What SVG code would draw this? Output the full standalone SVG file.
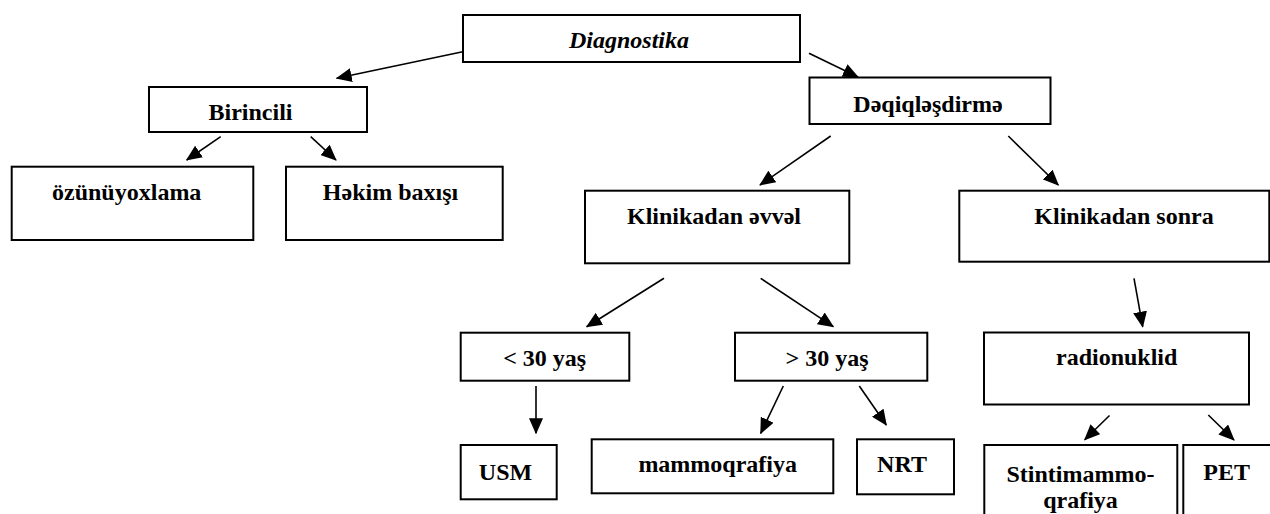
<svg xmlns="http://www.w3.org/2000/svg" width="1270" height="514" viewBox="0 0 1270 514">
<style>
.box{fill:#fff;stroke:#000;stroke-width:2}
.lbl{font-family:"Liberation Serif","Times New Roman",serif;font-weight:bold;font-size:24px;fill:#000;text-anchor:middle}
.it{font-style:italic}
.con{stroke:#000;stroke-width:1.6;fill:none;marker-end:url(#ah)}
</style>
<defs>
<marker id="ah" markerUnits="userSpaceOnUse" markerWidth="16" markerHeight="14" refX="15" refY="7" orient="auto">
<path d="M0,0 L16,7 L0,14 z" fill="#000"/>
</marker>
</defs>
<rect width="1270" height="514" fill="#fff"/>
<g id="connectors">
<line class="con" x1="462.7" y1="51.7" x2="336.7" y2="78.3"/>
<line class="con" x1="809" y1="53.3" x2="858" y2="77"/>
<line class="con" x1="220.7" y1="136.7" x2="186.7" y2="160"/>
<line class="con" x1="310.7" y1="136.7" x2="336" y2="160"/>
<line class="con" x1="830.7" y1="136" x2="760" y2="185"/>
<line class="con" x1="1008.3" y1="136" x2="1058.3" y2="185"/>
<line class="con" x1="664" y1="278.3" x2="586.7" y2="326.7"/>
<line class="con" x1="760.7" y1="278.3" x2="833.3" y2="326.7"/>
<line class="con" x1="536" y1="386" x2="536" y2="433.3"/>
<line class="con" x1="783.3" y1="386" x2="760.7" y2="433.3"/>
<line class="con" x1="859.3" y1="386" x2="886.3" y2="425"/>
<line class="con" x1="1134" y1="278.3" x2="1142.7" y2="326.7"/>
<line class="con" x1="1109.5" y1="415.5" x2="1084.7" y2="439.7"/>
<line class="con" x1="1208.3" y1="415" x2="1234" y2="440"/>
</g>
<g id="n-diagnostika"><rect class="box" x="463" y="15" width="337" height="47"/><text class="lbl it" x="629" y="47.7">Diagnostika</text></g>
<g id="n-birincili"><rect class="box" x="149" y="87" width="218" height="45"/><text class="lbl" x="250.5" y="120">Birincili</text></g>
<g id="n-deqiq"><rect class="box" x="809.5" y="77.5" width="241" height="46.5"/><text class="lbl" x="928" y="111.7">Dəqiqləşdirmə</text></g>
<g id="n-ozunu"><rect class="box" x="11.7" y="166.7" width="241.6" height="73.3"/><text class="lbl" x="126.7" y="200">özünüyoxlama</text></g>
<g id="n-hekim"><rect class="box" x="286" y="166.7" width="216.7" height="73.3"/><text class="lbl" x="390.5" y="200">Həkim baxışı</text></g>
<g id="n-klin-evvel"><rect class="box" x="585" y="190.7" width="264.3" height="72.6"/><text class="lbl" x="714" y="224">Klinikadan əvvəl</text></g>
<g id="n-klin-sonra"><rect class="box" x="959.3" y="190.7" width="310" height="71"/><text class="lbl" x="1124" y="224">Klinikadan sonra</text></g>
<g id="n-lt30"><rect class="box" x="460.7" y="332.7" width="168.6" height="48"/><text class="lbl" x="544.7" y="366">&lt; 30 yaş</text></g>
<g id="n-gt30"><rect class="box" x="735" y="332.7" width="192.3" height="48"/><text class="lbl" x="827" y="366">&gt; 30 yaş</text></g>
<g id="n-radio"><rect class="box" x="984" y="332.5" width="265" height="72"/><text class="lbl" x="1116.7" y="365">radionuklid</text></g>
<g id="n-usm"><rect class="box" x="460.7" y="445" width="96" height="54.3"/><text class="lbl" x="505.5" y="480">USM</text></g>
<g id="n-mammo"><rect class="box" x="591.7" y="439.3" width="241.6" height="54"/><text class="lbl" x="717.7" y="472">mammoqrafiya</text></g>
<g id="n-nrt"><rect class="box" x="857" y="439.3" width="97" height="55"/><text class="lbl" x="902" y="472">NRT</text></g>
<g id="n-stinti"><rect class="box" x="984.3" y="445" width="193" height="80"/><text class="lbl" x="1080.5" y="481.7">Stintimammo-</text><text class="lbl" x="1080.5" y="508.3">qrafiya</text></g>
<g id="n-pet"><rect class="box" x="1183.3" y="445" width="90" height="80"/><text class="lbl" x="1226.7" y="480">PET</text></g>
</svg>
